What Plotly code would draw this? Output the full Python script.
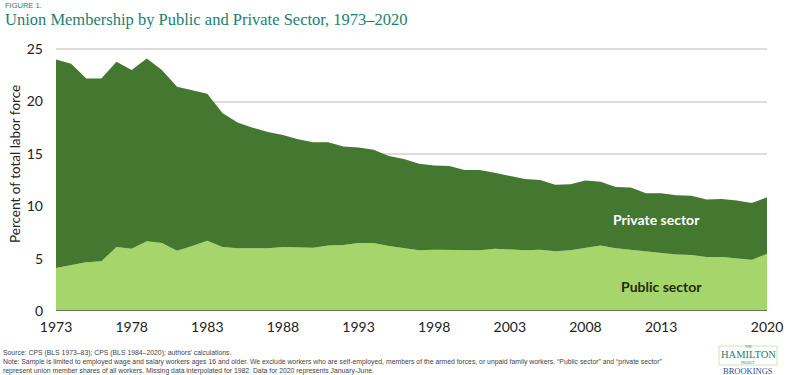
import plotly.graph_objects as go

years = list(range(1973, 2021))
public_sector = [4.1, 4.4, 4.65, 4.75, 6.1, 5.95, 6.65, 6.5, 5.75, 6.2, 6.7, 6.1,
                 6.0, 6.0, 6.0, 6.1, 6.1, 6.05, 6.25, 6.3, 6.5, 6.5, 6.2, 6.0,
                 5.8, 5.85, 5.85, 5.8, 5.8, 5.95, 5.9, 5.8, 5.85, 5.7, 5.8, 6.0,
                 6.25, 6.0, 5.85, 5.65, 5.5, 5.4, 5.35, 5.15, 5.15, 5.05, 4.9, 5.45]
private_sector = [19.9, 19.2, 17.55, 17.45, 17.7, 17.05, 17.45, 16.5, 15.65, 14.9, 14.05, 12.8,
                  12.0, 11.5, 11.1, 10.7, 10.3, 10.05, 9.85, 9.4, 9.1, 8.9, 8.6, 8.5,
                  8.25, 8.05, 8.0, 7.65, 7.65, 7.25, 7.0, 6.8, 6.65, 6.35, 6.3, 6.45,
                  6.1, 5.85, 5.95, 5.6, 5.75, 5.65, 5.65, 5.5, 5.55, 5.5, 5.4, 5.4]
x_ticks = [1973, 1978, 1983, 1988, 1993, 1998, 2003, 2008, 2013, 2020]
y_ticks = [0, 5, 10, 15, 20, 25]

DARK = "#44772f"
LIGHT = "#a6d66b"
TEAL = "#1b7f72"
FONT = "Lato"

# plot area in pixels
L, R, T, B = 56, 767, 46, 311
W, H = R - L, B - T


def px(xp):
    return (xp - L) / W


def py(yp):
    return (B - yp) / H


fig = go.Figure()
fig.add_trace(go.Scatter(x=years, y=public_sector, stackgroup="one", mode="lines",
                         line=dict(width=0, color=LIGHT), fillcolor=LIGHT, name="Public sector"))
fig.add_trace(go.Scatter(x=years, y=private_sector, stackgroup="one", mode="lines",
                         line=dict(width=0, color=DARK), fillcolor=DARK, name="Private sector"))

fig.update_layout(
    width=800, height=375,
    margin=dict(l=L, r=800 - R, t=T, b=375 - B, autoexpand=False),
    paper_bgcolor="white", plot_bgcolor="white",
    showlegend=False,
    font=dict(family=FONT, color="#222222"),
    xaxis=dict(range=[1973, 2020], tickvals=x_ticks, ticktext=[str(t) for t in x_ticks],
               showgrid=False, zeroline=False, showline=False, ticks="",
               ticklabelstandoff=6,
               tickfont=dict(size=14, family=FONT, color="#222222")),
    yaxis=dict(range=[0, 25.3], tickvals=y_ticks, showgrid=True, gridcolor="#dcdcdc",
               gridwidth=1.5, zeroline=False, showline=False, ticks="",
               tickfont=dict(size=14, family=FONT, color="#222222"), ticklabelstandoff=12),
)

# baseline axis line
fig.add_shape(type="line", xref="paper", yref="y", x0=0, x1=1, y0=0, y1=0,
              line=dict(color="#555555", width=1.5))

# y-axis title
fig.add_annotation(xref="paper", yref="paper", x=px(15), y=py(164), xanchor="center", yanchor="middle",
                   text="Percent of total labor force", textangle=-90, showarrow=False,
                   font=dict(size=13.5, color="#222222", family=FONT))

fig.add_annotation(x=2012.7, y=8.7, text="<b>Private sector</b>", showarrow=False,
                   font=dict(size=14, color="white", family=FONT))
fig.add_annotation(x=2013.0, y=2.36, text="<b>Public sector</b>", showarrow=False,
                   font=dict(size=14, color="#1e2a12", family=FONT))

# header
fig.add_annotation(xref="paper", yref="paper", x=px(3), y=py(5), xanchor="left", yanchor="middle",
                   text="FIGURE 1.", showarrow=False,
                   font=dict(size=7.5, color=TEAL, family="Liberation Sans"))
fig.add_annotation(xref="paper", yref="paper", x=px(3), y=py(19), xanchor="left", yanchor="middle",
                   text="Union Membership by Public and Private Sector, 1973\u20132020", showarrow=False,
                   font=dict(size=16.5, color=TEAL, family="Liberation Serif"))

# footer
footer = ("Source: CPS (BLS 1973\u201383); CPS (BLS 1984\u20132020); authors\u2019 calculations.<br>"
          "Note: Sample is limited to employed wage and salary workers ages 16 and older. We exclude workers who are self-employed, members of the armed forces, or unpaid family workers. \u201cPublic sector\u201d and \u201cprivate sector\u201d<br>"
          "represent union member shares of all workers. Missing data interpolated for 1982. Data for 2020 represents January-June.")
fig.add_annotation(xref="paper", yref="paper", x=px(1), y=py(347), xanchor="left", yanchor="top",
                   text=footer, showarrow=False, align="left",
                   font=dict(size=6.85, color="#444444", family="Liberation Sans"))

# logo
LX = px(748)
fig.add_shape(type="rect", xref="paper", yref="paper", x0=px(719), x1=px(777), y0=py(365), y1=py(346),
              line=dict(color="#c4df9e", width=0.8), fillcolor="rgba(0,0,0,0)")
fig.add_annotation(xref="paper", yref="paper", x=LX, y=py(346.5), xanchor="center", yanchor="middle",
                   text="THE", showarrow=False,
                   font=dict(size=3.5, color=TEAL, family="Liberation Serif"))
fig.add_annotation(xref="paper", yref="paper", x=LX, y=py(354.5), xanchor="center", yanchor="middle",
                   text="HAMILTON", showarrow=False,
                   font=dict(size=10.5, color=TEAL, family="Liberation Serif"))
fig.add_annotation(xref="paper", yref="paper", x=LX, y=py(363), xanchor="center", yanchor="middle",
                   text="PROJECT", showarrow=False,
                   font=dict(size=3.2, color=TEAL, family="Liberation Serif"))
fig.add_annotation(xref="paper", yref="paper", x=LX, y=py(370.5), xanchor="center", yanchor="middle",
                   text="BROOKINGS", showarrow=False,
                   font=dict(size=8.5, color="#2a4f8f", family="Liberation Serif"))

fig.write_html("out.html", config={"displayModeBar": False},
               post_script="document.body.style.margin='0';document.body.style.overflow='hidden';")
